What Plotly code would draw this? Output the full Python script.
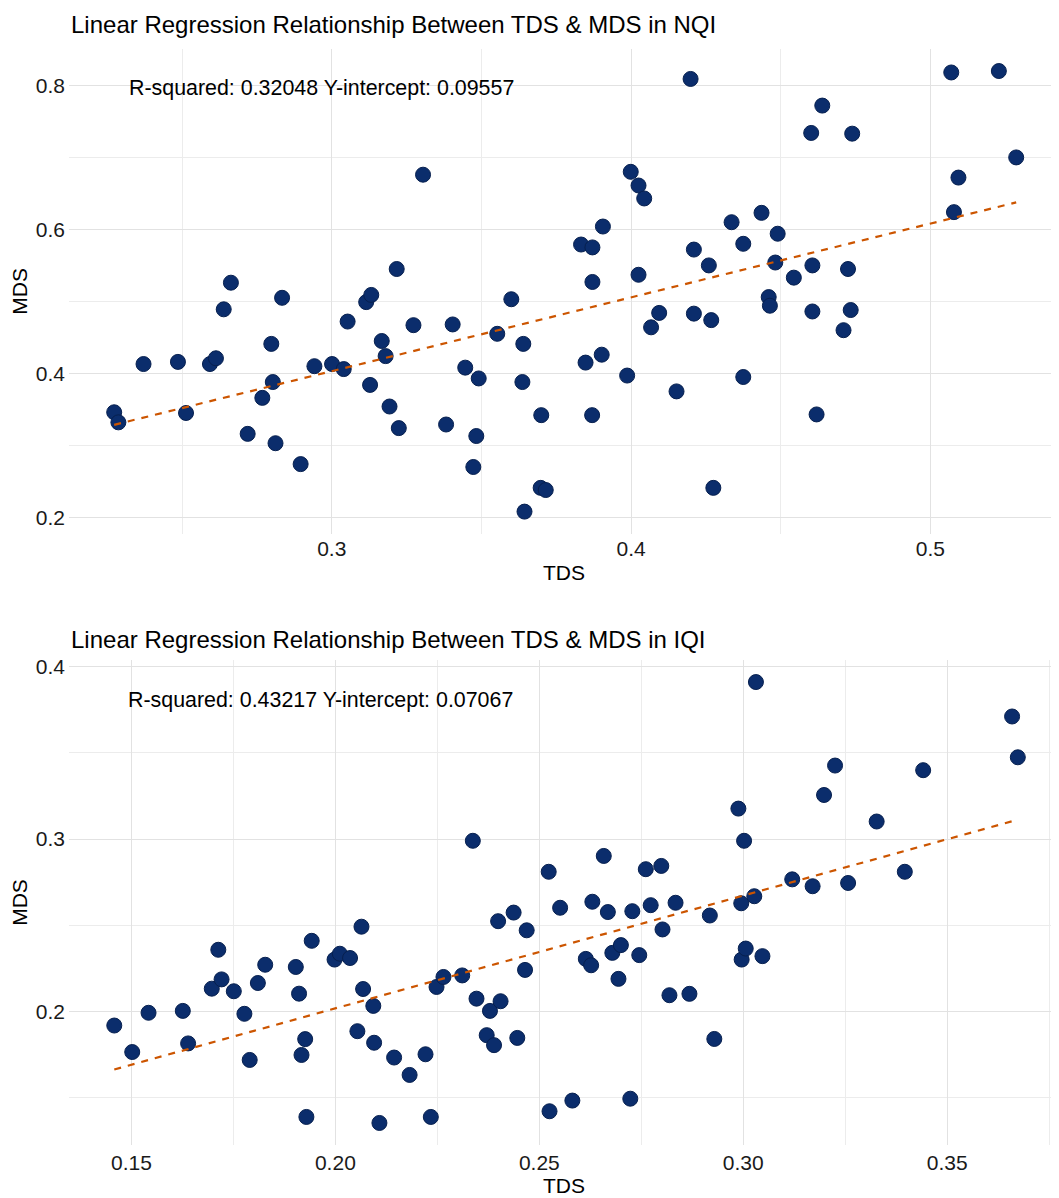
import plotly.graph_objects as go

# ---------------- data: NQI (top panel) ----------------
nqi_tds = [0.2273, 0.2287, 0.2371, 0.2486, 0.2513, 0.2593, 0.2613, 0.2639, 0.2663, 0.2719,
           0.2768, 0.2798, 0.2803, 0.2812, 0.2834, 0.2896, 0.2942, 0.3001, 0.3040, 0.3053,
           0.3115, 0.3132, 0.3128, 0.3167, 0.3180, 0.3193, 0.3217, 0.3224, 0.3273, 0.3305,
           0.3382, 0.3404, 0.3446, 0.3483, 0.3473, 0.3491, 0.3553, 0.3600, 0.3640, 0.3637,
           0.3644, 0.3700, 0.3698, 0.3715, 0.3833, 0.3871, 0.3871, 0.3848, 0.3902, 0.3870,
           0.3906, 0.3987, 0.3999, 0.4025, 0.4044, 0.4025, 0.4067, 0.4094, 0.4152, 0.4199,
           0.4210, 0.4210, 0.4260, 0.4268, 0.4275, 0.4336, 0.4375, 0.4375, 0.4436, 0.4460,
           0.4464, 0.4482, 0.4490, 0.4544, 0.4602, 0.4639, 0.4606, 0.4606, 0.4620, 0.4710,
           0.4725, 0.4734, 0.4739, 0.5070, 0.5079, 0.5094, 0.5229, 0.5287]
nqi_mds = [0.346, 0.332, 0.413, 0.416, 0.345, 0.413, 0.421, 0.489, 0.526, 0.316,
           0.366, 0.441, 0.388, 0.303, 0.505, 0.274, 0.410, 0.413, 0.406, 0.472,
           0.499, 0.509, 0.384, 0.445, 0.424, 0.354, 0.545, 0.324, 0.467, 0.676,
           0.329, 0.468, 0.408, 0.313, 0.270, 0.393, 0.455, 0.503, 0.441, 0.388,
           0.208, 0.342, 0.241, 0.238, 0.579, 0.575, 0.527, 0.415, 0.426, 0.342,
           0.604, 0.397, 0.680, 0.661, 0.643, 0.537, 0.464, 0.484, 0.375, 0.809,
           0.572, 0.483, 0.550, 0.474, 0.241, 0.610, 0.580, 0.395, 0.623, 0.506,
           0.494, 0.554, 0.594, 0.533, 0.734, 0.772, 0.550, 0.486, 0.343, 0.460,
           0.545, 0.488, 0.733, 0.818, 0.624, 0.672, 0.820, 0.700]
nqi_slope = 1.025
nqi_intercept = 0.09557
nqi_r2 = 0.32048

# ---------------- data: IQI (bottom panel) ----------------
iqi_tds = [0.1458, 0.1502, 0.1542, 0.1626, 0.1639, 0.1697, 0.1721, 0.1713, 0.1751, 0.1777,
           0.1790, 0.1810, 0.1828, 0.1903, 0.1911, 0.1926, 0.1917, 0.1929, 0.1942, 0.1998,
           0.2011, 0.2036, 0.2064, 0.2068, 0.2054, 0.2093, 0.2095, 0.2108, 0.2144, 0.2182,
           0.2221, 0.2234, 0.2248, 0.2265, 0.2311, 0.2346, 0.2337, 0.2379, 0.2405, 0.2371,
           0.2389, 0.2399, 0.2437, 0.2446, 0.2469, 0.2465, 0.2523, 0.2525, 0.2551, 0.2581,
           0.2614, 0.2627, 0.2630, 0.2658, 0.2668, 0.2679, 0.2700, 0.2694, 0.2723, 0.2728,
           0.2745, 0.2761, 0.2773, 0.2799, 0.2802, 0.2819, 0.2834, 0.2868, 0.2918, 0.2929,
           0.2988, 0.2995, 0.2996, 0.3002, 0.3006, 0.3027, 0.3031, 0.3047, 0.3120, 0.3170,
           0.3198, 0.3225, 0.3257, 0.3327, 0.3396, 0.3441, 0.3659, 0.3673]
iqi_mds = [0.1917, 0.1763, 0.1991, 0.2002, 0.1813, 0.2131, 0.2185, 0.2357, 0.2116, 0.1985,
           0.1717, 0.2164, 0.2270, 0.2257, 0.2102, 0.1838, 0.1746, 0.1386, 0.2409, 0.2300,
           0.2334, 0.2309, 0.2491, 0.2129, 0.1884, 0.2031, 0.1817, 0.1351, 0.1731, 0.1630,
           0.1750, 0.1386, 0.2141, 0.2199, 0.2208, 0.2073, 0.2990, 0.2002, 0.2058, 0.1861,
           0.1803, 0.2523, 0.2573, 0.1845, 0.2470, 0.2240, 0.2810, 0.1419, 0.2601, 0.1481,
           0.2304, 0.2267, 0.2636, 0.2902, 0.2576, 0.2339, 0.2384, 0.2188, 0.1492, 0.2581,
           0.2326, 0.2825, 0.2616, 0.2844, 0.2475, 0.2093, 0.2630, 0.2101, 0.2556, 0.1839,
           0.3177, 0.2627, 0.2300, 0.2990, 0.2364, 0.2668, 0.3912, 0.2320, 0.2766, 0.2726,
           0.3256, 0.3427, 0.2745, 0.3102, 0.2810, 0.3400, 0.3712, 0.3475]
iqi_slope = 0.655
iqi_intercept = 0.07067
iqi_r2 = 0.43217

# tick labels
nqi_x_ticks = [0.3, 0.4, 0.5]
nqi_y_ticks = [0.2, 0.4, 0.6, 0.8]
iqi_x_ticks = [0.15, 0.20, 0.25, 0.30, 0.35]
iqi_y_ticks = [0.2, 0.3, 0.4]

titles = ["Linear Regression Relationship Between TDS & MDS in NQI",
          "Linear Regression Relationship Between TDS & MDS in IQI"]

# ---------------- styling ----------------
FONT = "Liberation Sans, Arial, sans-serif"
DOT = "#0B2D6C"
DOT_EDGE = "#07204F"
LINE = "#CC5500"
GRID = "#E2E2E2"
GRID_MINOR = "#ECECEC"

fig = go.Figure()

def add_panel(xs, ys, slope, intercept, xa, ya):
    fig.add_trace(go.Scatter(x=xs, y=ys, mode="markers", xaxis=xa, yaxis=ya,
                             marker=dict(size=15, color=DOT, line=dict(color=DOT_EDGE, width=1)),
                             showlegend=False))
    x0, x1 = min(xs), max(xs)
    fig.add_trace(go.Scatter(x=[x0, x1], y=[intercept + slope * x0, intercept + slope * x1],
                             mode="lines", xaxis=xa, yaxis=ya,
                             line=dict(color=LINE, width=2.2, dash="7px,7px"),
                             showlegend=False))

add_panel(nqi_tds, nqi_mds, nqi_slope, nqi_intercept, "x", "y")
add_panel(iqi_tds, iqi_mds, iqi_slope, iqi_intercept, "x2", "y2")

def axis(rng, ticks, fmt, minor_vals, domain, anchor, title, standoff, label_off=0):
    return dict(range=rng, tickvals=ticks, ticktext=[format(t, fmt) for t in ticks],
                showgrid=True, gridcolor=GRID, gridwidth=1.1, zeroline=False,
                showline=False, ticks="", domain=domain, anchor=anchor, automargin=False,
                ticklabelstandoff=label_off,
                tickfont=dict(size=21, color="#1a1a1a", family=FONT),
                minor=dict(tickvals=minor_vals, showgrid=True, gridcolor=GRID_MINOR, gridwidth=1),
                title=dict(text=title, font=dict(size=21, color="#000000", family=FONT),
                           standoff=standoff))

top_dom = [0.5578, 1.0]
bot_dom = [0.0, 0.4425]

# the page body adds an 8px offset, so the figure is 8px smaller on each side
fig.update_layout(
    width=1051, height=1190,
    margin=dict(l=61, r=0, t=41, b=53),
    plot_bgcolor="white", paper_bgcolor="white",
    font=dict(family=FONT),
    xaxis=axis([0.2122, 0.543], nqi_x_ticks, ".1f", [0.25, 0.35, 0.45], [0, 1], "y", "TDS", 6),
    yaxis=axis([0.1774, 0.8506], nqi_y_ticks, ".1f", [0.3, 0.5, 0.7], top_dom, "x", "MDS", 3, 3),
    xaxis2=axis([0.1347, 0.3774], iqi_x_ticks, ".2f", [0.175, 0.225, 0.275, 0.325, 0.375], [0, 1], "y2", "TDS", 5, 3),
    yaxis2=axis([0.1223, 0.404], iqi_y_ticks, ".1f", [0.15, 0.25, 0.35], bot_dom, "x2", "MDS", 3, 3),
)

# titles
fig.add_annotation(text=titles[0], xref="paper", yref="paper", x=0, y=1.0219,
                   xanchor="left", yanchor="middle", showarrow=False,
                   font=dict(size=24, color="#000000", family=FONT))
fig.add_annotation(text=titles[1], xref="paper", yref="paper", x=0, y=0.4608,
                   xanchor="left", yanchor="middle", showarrow=False,
                   font=dict(size=24, color="#000000", family=FONT))

# stats labels
fig.add_annotation(text=f"R-squared: {nqi_r2:.5f} Y-intercept: {nqi_intercept:.5f}",
                   xref="x", yref="y", x=0.2316, y=0.7963, xanchor="left", yanchor="middle",
                   showarrow=False, font=dict(size=21.4, color="#000000", family=FONT))
fig.add_annotation(text=f"R-squared: {iqi_r2:.5f} Y-intercept: {iqi_intercept:.5f}",
                   xref="x2", yref="y2", x=0.1486, y=0.3808, xanchor="left", yanchor="middle",
                   showarrow=False, font=dict(size=21.4, color="#000000", family=FONT))

fig.write_html("out.html")
